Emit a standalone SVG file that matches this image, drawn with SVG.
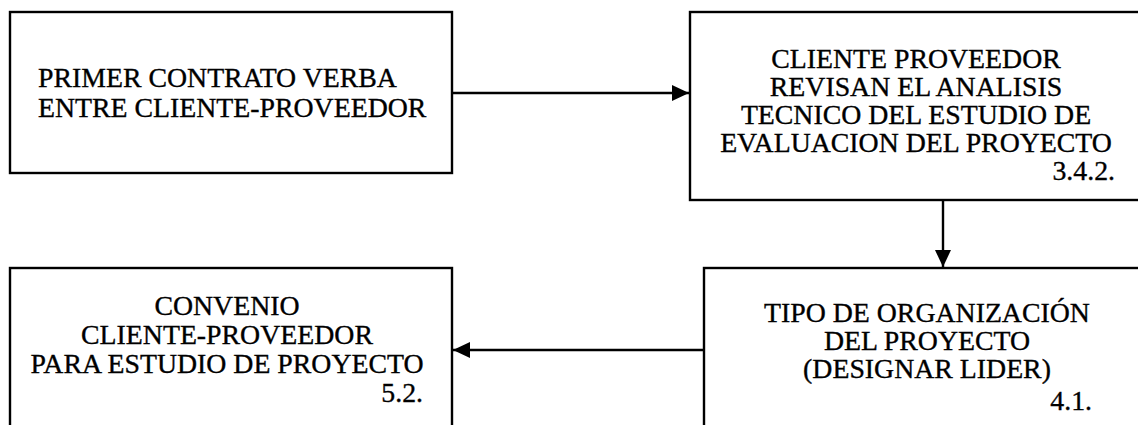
<svg xmlns="http://www.w3.org/2000/svg" width="1138" height="425" viewBox="0 0 1138 425">
<style>
.box{fill:#fff;stroke:#000;stroke-width:2.4}
.t{font-family:"Liberation Serif","Times New Roman",serif;font-size:27.8px;fill:#000;stroke:#000;stroke-width:0.35}
.c{text-anchor:middle}
.r{text-anchor:end}
.ln{stroke:#000;stroke-width:2.4;fill:none}
</style>
<defs>
<marker id="ah" markerWidth="17" markerHeight="16" refX="17" refY="8" orient="auto" markerUnits="userSpaceOnUse">
<path d="M0,0 L17,8 L0,16 Z" fill="#000"/>
</marker>
</defs>
<g id="n1">
<rect class="box" x="10" y="12" width="442" height="161"/>
<text class="t" x="38" y="87">PRIMER CONTRATO VERBA</text>
<text class="t" x="38" y="117">ENTRE CLIENTE-PROVEEDOR</text>
</g>
<g id="n2">
<rect class="box" x="690" y="12" width="460" height="188"/>
<text class="t c" x="916" y="68">CLIENTE PROVEEDOR</text>
<text class="t c" x="916" y="96">REVISAN EL ANALISIS</text>
<text class="t c" x="916" y="124">TECNICO DEL ESTUDIO DE</text>
<text class="t c" x="916" y="152">EVALUACION DEL PROYECTO</text>
<text class="t r" x="1115" y="180">3.4.2.</text>
</g>
<g id="n3">
<rect class="box" x="10" y="268" width="442" height="170"/>
<text class="t c" x="227" y="315">CONVENIO</text>
<text class="t c" x="227" y="344">CLIENTE-PROVEEDOR</text>
<text class="t c" x="227" y="373">PARA ESTUDIO DE PROYECTO</text>
<text class="t r" x="423" y="402">5.2.</text>
</g>
<g id="n4">
<rect class="box" x="704" y="268" width="450" height="170"/>
<text class="t c" x="927" y="322">TIPO DE ORGANIZACIÓN</text>
<text class="t c" x="927" y="350">DEL PROYECTO</text>
<text class="t c" x="927" y="378">(DESIGNAR LIDER)</text>
<text class="t r" x="1092" y="410">4.1.</text>
</g>
<g id="connectors">
<line class="ln" x1="452" y1="93" x2="689" y2="93" marker-end="url(#ah)"/>
<line class="ln" x1="943" y1="200" x2="943" y2="267" marker-end="url(#ah)"/>
<line class="ln" x1="704" y1="350" x2="453" y2="350" marker-end="url(#ah)"/>
</g>
</svg>
